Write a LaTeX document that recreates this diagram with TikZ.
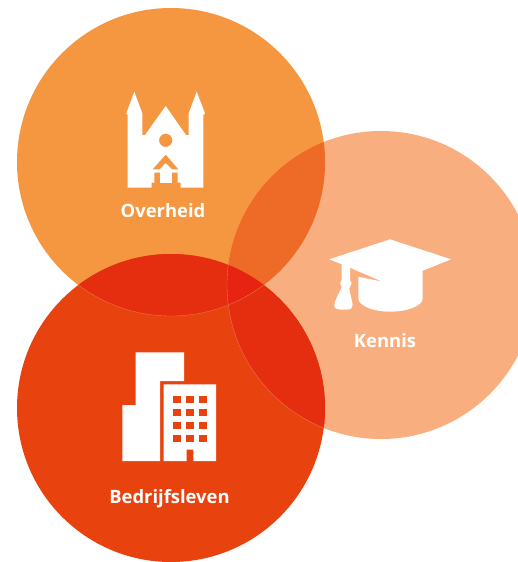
\documentclass[tikz,border=0pt]{standalone}
\usepackage{fontspec}
\setmainfont{Open Sans}
\definecolor{cTop}{HTML}{F59740}
\definecolor{cRight}{HTML}{F9AE80}
\definecolor{cBottom}{HTML}{E8430F}
\definecolor{cTR}{HTML}{EE6A27}
\definecolor{cTB}{HTML}{E52D10}
\definecolor{cAll}{HTML}{E62411}
\definecolor{cHair}{HTML}{EE7A50}
\tikzset{
  labeltext/.style={text=white,font=\fontsize{18.4}{20}\selectfont\bfseries,inner sep=0pt,anchor=base},
  icon/.style={fill=white,draw=none},
  hairline/.style={draw=cHair,line width=0.35pt},
}
\newcommand{\cT}{(171,162) circle[radius=154]}
\newcommand{\cR}{(381,285) circle[radius=154]}
\newcommand{\cB}{(171,408) circle[radius=154]}
\begin{document}
\begin{tikzpicture}[x=1pt,y=-1pt]
\useasboundingbox (0,0) rectangle (518,562);
\clip (0,0) rectangle (518,562);
\fill[cRight] \cR;
\fill[cTop] \cT;
\fill[cBottom] \cB;
\begin{scope}\clip \cT; \fill[cTR] \cR; \end{scope}
\begin{scope}\clip \cB; \fill[cTB] \cR; \end{scope}
\begin{scope}\clip \cT; \fill[cTB] \cB; \end{scope}
\begin{scope}\clip \cT; \clip \cB; \fill[cAll] \cR; \end{scope}
\begin{scope}\clip \cB; \draw[hairline] \cR; \draw[hairline] \cT; \end{scope}
% church
\fill[icon,even odd rule]
 (134.3,91.7) -- (126.3,113.3) -- (127.7,115) -- (127.7,187.7) -- (151.7,187.7) -- (151.7,182.7) -- (154.3,182.7) -- (154.3,172.5)
 -- (177.7,172.5) -- (177.7,182.7) -- (180.7,182.7) -- (180.7,187.7) -- (203.3,187.7)
 -- (203.3,115) -- (205,113.3) -- (196.7,91.7) -- (188.7,113.3) -- (188.7,135) -- (186,135) -- (165.7,106) -- (145,135) -- (142.3,135) -- (142.3,113.3) -- cycle
 (165.7,140.3) circle[radius=6.7];
\fill[icon] (160,172) -- (171.5,172) -- (171.5,182.7) -- (160,182.7) -- cycle;
\fill[cTop] (152.7,169.3) -- (165.7,154.7) -- (178.3,169.3) -- (172.3,169.3) -- (165.7,163) -- (159.5,169.3) -- cycle;
% cap
\fill[icon] (390,239.3) -- (329.3,259.3) -- (341.7,264.3) -- (341.7,280) -- (340,283.3) -- (341.7,287.3) .. controls (339,294) and (334.5,300) .. (334.3,305) .. controls (334,308.5) and (337,309.5) .. (340,309.5) -- (347,309.5) .. controls (351,309.5) and (352.8,308) .. (352.6,305) .. controls (352,299) and (349.5,293) .. (349.3,288.3) -- (351.7,283.3) -- (350,280) -- (350,267.7) -- (382.3,281.7) -- (358.3,276.7) -- (358.3,298.3) .. controls (358.3,306) and (374,311.7) .. (390,311.7) .. controls (407,311.7) and (422.7,306) .. (422.7,298.3) -- (422.7,270.7) -- (451,259.3) -- cycle;
% building
\fill[icon] (122.3,405) -- (135.7,405) -- (135.7,352.3) -- (184,352.3) -- (184,381) -- (160,381) -- (160,461) -- (122.3,461) -- cycle;
\fill[icon] (163.7,384.3) -- (216,384.3) -- (216,461) -- (193.3,461) -- (193.3,449.7) -- (186.7,449.7) -- (186.7,461) -- (163.7,461) -- cycle;
\foreach \i in {0,1,2,3} \foreach \j in {0,1,2}
  \fill[cBottom] ({173+13.2*\j},{395.7+13.2*\i}) rectangle +(8,7);
\node[labeltext] (overheid) at (163,217) {Overheid};
\node[labeltext] (kennis) at (385,347) {Kennis};
\node[labeltext] (bedrijf) at (169.5,503) {Bedrijfsleven};
\end{tikzpicture}
\end{document}
